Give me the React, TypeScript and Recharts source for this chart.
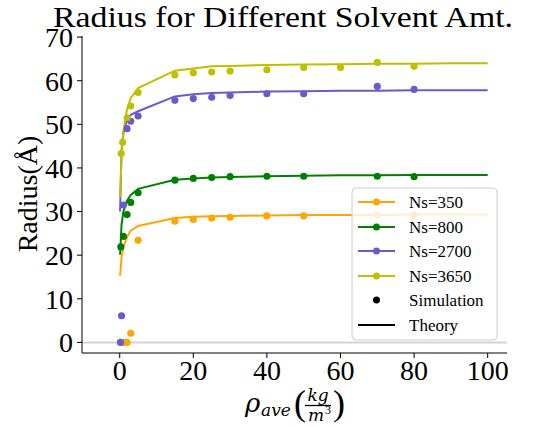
import React from 'react'
import {
  ComposedChart, Line, Scatter, XAxis, YAxis, ZAxis, ReferenceLine,
} from 'recharts'

// theory curves share one x grid
const theoryX = [0.1, 0.5, 1, 2, 3, 5, 15, 20, 25, 30, 40, 50, 60, 70, 80, 90, 100]
const theory350 = [15.3, 19.5, 21.8, 24.2, 25.6, 26.7, 28.5, 28.8, 28.9, 29.0, 29.1, 29.2, 29.2, 29.2, 29.3, 29.3, 29.3]
const theory800 = [20.1, 27.0, 30.0, 32.5, 33.8, 35.2, 37.3, 37.6, 37.8, 37.9, 38.1, 38.2, 38.3, 38.3, 38.4, 38.4, 38.4]
const theory2700 = [30.0, 44.0, 48.0, 51.0, 52.2, 53.0, 56.4, 56.9, 57.2, 57.3, 57.5, 57.6, 57.7, 57.7, 57.8, 57.8, 57.8]
const theory3650 = [33.3, 43.0, 48.5, 53.5, 56.0, 58.3, 62.3, 62.8, 63.3, 63.4, 63.6, 63.7, 63.8, 63.9, 63.9, 64.0, 64.0]

// simulation points
const simX350 = [1, 2, 3, 5, 15, 20, 25, 30, 40, 50, 70, 80]
const sim350 = [0, 0, 2.1, 23.4, 27.8, 28.2, 28.5, 28.7, 29.0, 29.0, 29.2, 29.2]
const simX800 = [0.3, 1, 2, 3, 5, 15, 20, 25, 30, 40, 50, 70, 80]
const sim800 = [21.9, 24.3, 29.3, 32.1, 34.3, 37.2, 37.6, 37.8, 38.0, 38.1, 38.1, 38.1, 38.0]
const simX2700 = [0.2, 0.5, 1, 2, 3, 5, 15, 20, 25, 30, 40, 50, 70, 80]
const sim2700 = [0, 6.1, 31.5, 49.0, 50.7, 51.9, 55.5, 55.9, 56.2, 56.6, 57.0, 57.0, 58.7, 58.0]
const simX3650 = [0.4, 0.8, 2, 3, 5, 15, 20, 25, 30, 40, 50, 60, 70, 80]
const sim3650 = [43.3, 45.9, 51.5, 54.2, 57.3, 61.3, 61.8, 62.0, 62.2, 62.5, 63.0, 63.0, 64.2, 63.3]

const xTicks = [0, 20, 40, 60, 80, 100]
const yTicks = [0, 10, 20, 30, 40, 50, 60, 70]

const series = [
  { name: 'Ns=350', color: '#ffa500', theory: theory350, simX: simX350, sim: sim350 },
  { name: 'Ns=800', color: '#008000', theory: theory800, simX: simX800, sim: sim800 },
  { name: 'Ns=2700', color: '#6a5acd', theory: theory2700, simX: simX2700, sim: sim2700 },
  { name: 'Ns=3650', color: '#bfbf00', theory: theory3650, simX: simX3650, sim: sim3650 },
]

const FONT = '"Liberation Serif", "DejaVu Serif", serif'
const ITALIC = '"DejaVu Serif", "Liberation Serif", serif'

const toPoints = (xs: number[], ys: number[]) => xs.map((x, i) => ({ x, y: ys[i] }))

export default function App() {
  const tickStyle = { fill: '#000', fontSize: 28, fontFamily: FONT }
  const legendY = [202, 227, 251, 276, 300, 325]
  const it = (size: number) => ({ fontFamily: ITALIC, fontStyle: 'italic', fontSize: size })

  return (
    <div style={{ position: 'absolute', left: 0, top: 0, width: 533, height: 427, background: '#fff' }}>
      <ComposedChart width={533} height={427} margin={{ top: 36, right: 26, bottom: 34, left: 22 }}>
        <XAxis
          type="number" dataKey="x" domain={[-10.25, 105.25]} ticks={xTicks} allowDataOverflow
          height={40} tick={tickStyle} tickSize={5} tickMargin={2}
          axisLine={{ stroke: '#000' }} tickLine={{ stroke: '#000' }}
        />
        <XAxis
          xAxisId="top" orientation="top" type="number" domain={[-10.25, 105.25]}
          height={0} tick={false} tickLine={false} axisLine={{ stroke: '#000' }}
        />
        <YAxis
          type="number" dataKey="y" domain={[-2.43, 70.25]} ticks={yTicks} allowDataOverflow
          width={60} tick={tickStyle} tickSize={5} tickMargin={4}
          axisLine={{ stroke: '#000' }} tickLine={{ stroke: '#000' }}
        />
        <YAxis
          yAxisId="right" orientation="right" type="number" domain={[-2.43, 70.25]}
          width={0} tick={false} tickLine={false} axisLine={{ stroke: '#000' }}
        />
        <ZAxis range={[40, 40]} />
        <ReferenceLine y={0} stroke="#d3d3d3" strokeWidth={2} />
        {series.map((s) => (
          <Line
            key={s.name + '-t'} data={toPoints(theoryX, s.theory)} dataKey="y" type="linear"
            stroke={s.color} strokeWidth={2} dot={false} isAnimationActive={false}
          />
        ))}
        {series.map((s) => (
          <Scatter
            key={s.name + '-s'} data={toPoints(s.simX, s.sim)} dataKey="y"
            fill={s.color} isAnimationActive={false}
          />
        ))}
      </ComposedChart>

      <svg width={533} height={427} style={{ position: 'absolute', left: 0, top: 0, pointerEvents: 'none' }}>
        {/* title */}
        <text x={53} y={27} style={{ fontFamily: FONT, fontSize: 30 }} textLength={460} lengthAdjust="spacingAndGlyphs">
          Radius for Different Solvent Amt.
        </text>

        {/* y label */}
        <text transform="translate(37,194) rotate(-90)" textAnchor="middle" style={{ fontFamily: FONT, fontSize: 28 }}>
          Radius(Å)
        </text>

        {/* x label: rho_ave (kg / m^3) */}
        <text x={245} y={412} style={it(26)}>ρ</text>
        <text x={261} y={416} style={it(17)}>ave</text>
        <text x={294} y={415} style={{ fontFamily: FONT, fontSize: 36 }}>(</text>
        <text x={318} y={401} textAnchor="middle" style={it(17)}>kg</text>
        <line x1={305} x2={331} y1={405.5} y2={405.5} stroke="#000" strokeWidth={1.3} />
        <text x={316} y={421} textAnchor="middle" style={it(17)}>m</text>
        <text x={325} y={414} style={{ fontFamily: FONT, fontSize: 12 }}>3</text>
        <text x={333} y={415} style={{ fontFamily: FONT, fontSize: 36 }}>)</text>

        {/* legend */}
        <rect x={352} y={188} width={145} height={152} rx={4} fill="#fff" fillOpacity={0.8} stroke="#cccccc" />
        {series.map((s, i) => (
          <g key={s.name}>
            <line x1={358} x2={395} y1={legendY[i]} y2={legendY[i]} stroke={s.color} strokeWidth={2} />
            <circle cx={376.5} cy={legendY[i]} r={3.5} fill={s.color} />
            <text x={409} y={legendY[i] + 6} style={{ fontFamily: FONT, fontSize: 17 }}>{s.name}</text>
          </g>
        ))}
        <circle cx={376.5} cy={legendY[4]} r={3.5} fill="#000" />
        <text x={409} y={legendY[4] + 6} style={{ fontFamily: FONT, fontSize: 17 }}>Simulation</text>
        <line x1={358} x2={395} y1={legendY[5]} y2={legendY[5]} stroke="#000" strokeWidth={2} />
        <text x={409} y={legendY[5] + 6} style={{ fontFamily: FONT, fontSize: 17 }}>Theory</text>
      </svg>
    </div>
  )
}
